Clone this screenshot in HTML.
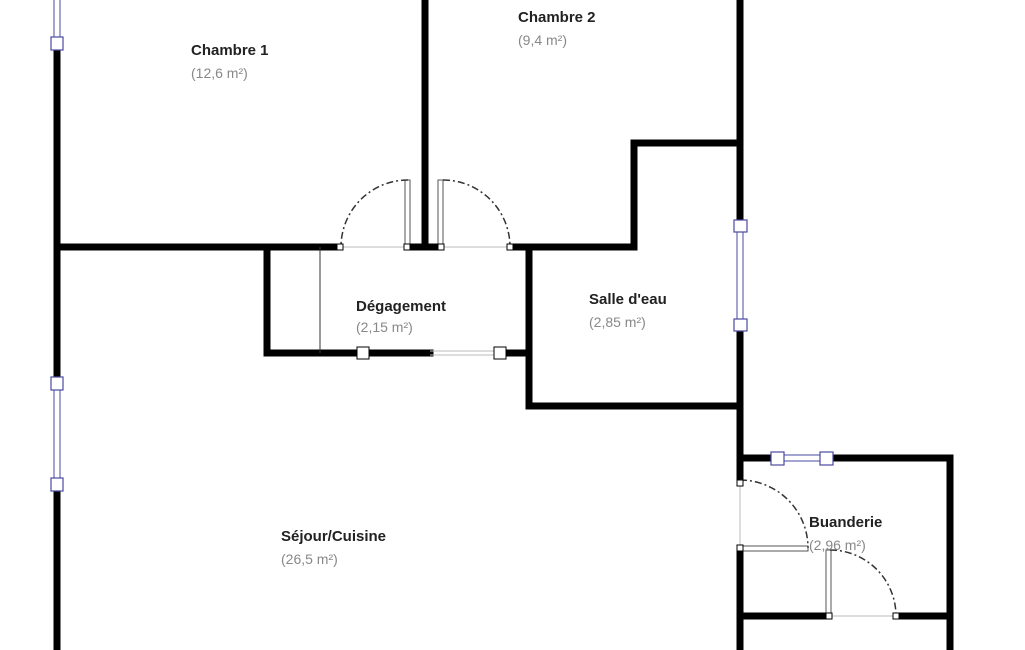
<!DOCTYPE html>
<html><head><meta charset="utf-8"><style>
html,body{margin:0;padding:0;background:#fff;width:1025px;height:650px;overflow:hidden}
svg{display:block}
.t{font-family:"Liberation Sans",sans-serif;font-size:15px;font-weight:bold;fill:#222}
.a{font-family:"Liberation Sans",sans-serif;font-size:14px;fill:#888}
</style></head><body>
<svg width="1025" height="650" viewBox="0 0 1025 650" xmlns="http://www.w3.org/2000/svg">
<g stroke="#000" stroke-width="7" fill="none" stroke-linecap="square">
<line x1="57" y1="50" x2="57" y2="377"/>
<line x1="57" y1="490" x2="57" y2="650"/>
<line x1="57" y1="247" x2="337" y2="247"/>
<line x1="408" y1="247" x2="441" y2="247"/>
<line x1="425" y1="0" x2="425" y2="247"/>
<line x1="512" y1="247" x2="634" y2="247"/>
<line x1="634" y1="247" x2="634" y2="143"/>
<line x1="634" y1="143" x2="740" y2="143"/>
<line x1="740" y1="0" x2="740" y2="220"/>
<line x1="740" y1="331" x2="740" y2="480"/>
<line x1="267" y1="247" x2="267" y2="353"/>
<line x1="267" y1="353" x2="430" y2="353"/>
<line x1="505" y1="353" x2="529" y2="353"/>
<line x1="529" y1="247" x2="529" y2="406"/>
<line x1="529" y1="406" x2="740" y2="406"/>
<line x1="740" y1="458" x2="771" y2="458"/>
<line x1="832" y1="458" x2="950" y2="458"/>
<line x1="950" y1="458" x2="950" y2="650"/>
<line x1="740" y1="551" x2="740" y2="650"/>
<line x1="740" y1="616" x2="826" y2="616"/>
<line x1="899" y1="616" x2="950" y2="616"/>
</g>
<g stroke="#bbb" stroke-width="1">
<line x1="340" y1="247" x2="408" y2="247"/>
<line x1="441" y1="247" x2="509" y2="247"/>
<line x1="430" y1="351" x2="500" y2="351"/>
<line x1="430" y1="355" x2="500" y2="355"/>
<line x1="740" y1="483" x2="740" y2="548"/>
<line x1="828" y1="616" x2="896" y2="616"/>
</g>
<line x1="320" y1="247" x2="320" y2="353" stroke="#333" stroke-width="1"/>
<g stroke="#4a4aa0" stroke-width="1">
<line x1="54" y1="0" x2="54" y2="38"/><line x1="60" y1="0" x2="60" y2="38"/>
<line x1="54" y1="389" x2="54" y2="478"/><line x1="60" y1="389" x2="60" y2="478"/>
<line x1="737" y1="232" x2="737" y2="320"/><line x1="743" y1="232" x2="743" y2="320"/>
<line x1="783" y1="455" x2="820" y2="455"/><line x1="783" y1="461" x2="820" y2="461"/>
</g>
<g fill="#fff" stroke="#4a4aa0" stroke-width="1.2">
<rect x="51" y="37" width="12" height="13"/>
<rect x="51" y="377" width="12" height="13"/>
<rect x="51" y="478" width="12" height="13"/>
<rect x="734" y="220" width="13" height="12"/>
<rect x="734" y="319" width="13" height="12"/>
<rect x="771" y="452" width="13" height="13"/>
<rect x="820" y="452" width="13" height="13"/>
</g>
<g fill="#fff" stroke="#555" stroke-width="1">
<rect x="405" y="180" width="5" height="67"/>
<rect x="438" y="180" width="5" height="67"/>
<rect x="740" y="546" width="68" height="5"/>
<rect x="826" y="550" width="5" height="66"/>
</g>
<g fill="none" stroke="#333" stroke-width="1.5" stroke-dasharray="7,3,2,3">
<path d="M408 180 A67 67 0 0 0 341 247"/>
<path d="M443 180 A67 67 0 0 1 510 247"/>
<path d="M740 480 A68 68 0 0 1 808 548"/>
<path d="M830 550 A66 66 0 0 1 896 616"/>
</g>
<g fill="#fff" stroke="#000" stroke-width="1">
<rect x="337" y="244" width="6" height="6"/>
<rect x="404" y="244" width="6" height="6"/>
<rect x="438" y="244" width="6" height="6"/>
<rect x="507" y="244" width="6" height="6"/>
<rect x="737" y="480" width="6" height="6"/>
<rect x="737" y="545" width="6" height="6"/>
<rect x="826" y="613" width="6" height="6"/>
<rect x="893" y="613" width="6" height="6"/>
<rect x="357" y="347" width="12" height="12"/>
<rect x="494" y="347" width="12" height="12"/>
</g>
<text class="t" x="191" y="55">Chambre 1</text>
<text class="a" x="191" y="78">(12,6 m²)</text>
<text class="t" x="518" y="22">Chambre 2</text>
<text class="a" x="518" y="45">(9,4 m²)</text>
<text class="t" x="356" y="311">Dégagement</text>
<text class="a" x="356" y="332">(2,15 m²)</text>
<text class="t" x="589" y="304">Salle d'eau</text>
<text class="a" x="589" y="327">(2,85 m²)</text>
<text class="t" x="281" y="541">Séjour/Cuisine</text>
<text class="a" x="281" y="564">(26,5 m²)</text>
<text class="t" x="809" y="527">Buanderie</text>
<text class="a" x="809" y="550">(2,96 m²)</text>
</svg>
</body></html>
